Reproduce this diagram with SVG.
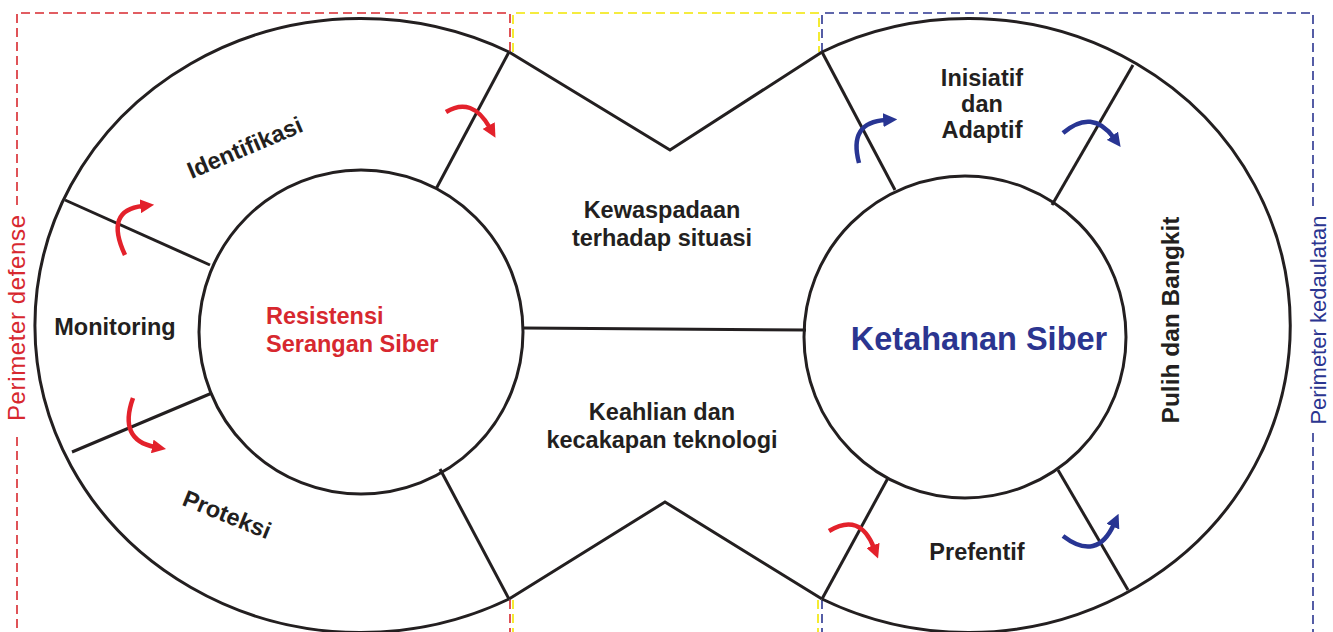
<svg xmlns="http://www.w3.org/2000/svg" width="1333" height="632" viewBox="0 0 1333 632">
<defs>
<style>
.ol{fill:none;stroke:#231f20;stroke-width:3;stroke-linejoin:miter}
.t{font-family:"Liberation Sans",Arial,sans-serif;font-weight:bold;font-size:23.5px;fill:#231f20;text-anchor:middle}
.red{fill:#d7282f}
.blue{fill:#2b3590}
.arr-r{fill:none;stroke:#e3212b;stroke-width:4.5;marker-end:url(#hr)}
.arr-b{fill:none;stroke:#283593;stroke-width:4.5;marker-end:url(#hb)}
.dr{stroke:#d7282f;stroke-width:1.6;stroke-dasharray:9 5;fill:none}
.dy{stroke:#f2e600;stroke-width:1.6;stroke-dasharray:9 5;fill:none}
.db{stroke:#2b3590;stroke-width:1.6;stroke-dasharray:9 5;fill:none}
.per{font-family:"Liberation Sans",Arial,sans-serif;font-size:22px;text-anchor:middle}
</style>
<marker id="hr" viewBox="0 0 10 10" refX="2" refY="5" markerWidth="14" markerHeight="14" markerUnits="userSpaceOnUse" orient="auto"><path d="M0,0 L10,5 L0,10 z" fill="#e3212b"/></marker>
<marker id="hb" viewBox="0 0 10 10" refX="2" refY="5" markerWidth="14" markerHeight="14" markerUnits="userSpaceOnUse" orient="auto"><path d="M0,0 L10,5 L0,10 z" fill="#283593"/></marker>
</defs>
<rect width="1333" height="632" fill="#ffffff"/>
<g id="perimeters">
<path class="dr" d="M17,205 L17,13 L510,13 L510,52"/>
<path class="dr" d="M17,437 L17,632"/>
<path class="dr" d="M510,600 L510,632"/>
<path class="dy" d="M513,52 L513,13 L819,13 L819,52"/>
<path class="dy" d="M513,600 L513,632"/>
<path class="dy" d="M818,600 L818,632"/>
<path class="db" d="M822,52 L822,13 L1313,13 L1313,207"/>
<path class="db" d="M1313,433 L1313,632"/>
<path class="db" d="M822,600 L822,632"/>
<text class="per red" transform="translate(25,318) rotate(-90)" style="font-size:24px" textLength="206" lengthAdjust="spacing">Perimeter defense</text>
<text class="per blue" transform="translate(1326,320) rotate(-90)">Perimeter kedaulatan</text>
</g>
<g id="connectors">
<path class="ol" d="M509,52 A326,307 0 1 0 509,599"/>
<path class="ol" d="M822,52 A322,307 0 1 1 822,599"/>
<path class="ol" d="M509,52 L670,150 L822,52"/>
<path class="ol" d="M509,599 L665,502 L822,599"/>
<path class="ol" d="M523,328 L806,330"/>
<path class="ol" d="M509,52 L436,189"/>
<path class="ol" d="M509,599 L440,469"/>
<path class="ol" d="M65,200 L210,265"/>
<path class="ol" d="M72,452 L212,393"/>
<path class="ol" d="M822,52 L895,190"/>
<path class="ol" d="M1133,65 L1052,205"/>
<path class="ol" d="M822,599 L888,478"/>
<path class="ol" d="M1128,590 L1058,470"/>
</g>
<g id="node-resistensi">
<circle class="ol" cx="361" cy="332" r="162"/>
<text class="t red" style="text-anchor:start" x="266" y="324">Resistensi</text>
<text class="t red" style="text-anchor:start" x="266" y="352">Serangan Siber</text>
</g>
<g id="node-ketahanan">
<circle class="ol" cx="965" cy="337" r="161"/>
<text class="t blue" x="979" y="350" style="font-size:32.5px">Ketahanan Siber</text>
</g>
<g id="node-identifikasi">
<text class="t" transform="translate(248,155) rotate(-23)">Identifikasi</text>
</g>
<g id="node-monitoring">
<text class="t" x="115" y="335">Monitoring</text>
</g>
<g id="node-proteksi">
<text class="t" transform="translate(224,522) rotate(22)">Proteksi</text>
</g>
<g id="node-kewaspadaan">
<text class="t" x="662" y="218">Kewaspadaan</text>
<text class="t" x="662" y="246">terhadap situasi</text>
</g>
<g id="node-keahlian">
<text class="t" x="662" y="420">Keahlian dan</text>
<text class="t" x="662" y="448">kecakapan teknologi</text>
</g>
<g id="node-inisiatif">
<text class="t" x="982" y="86">Inisiatif</text>
<text class="t" x="982" y="112">dan</text>
<text class="t" x="982" y="138">Adaptif</text>
</g>
<g id="node-pulih">
<text class="t" transform="translate(1179,320) rotate(-90)" style="font-size:24.5px">Pulih dan Bangkit</text>
</g>
<g id="node-prefentif">
<text class="t" x="977" y="560">Prefentif</text>
</g>
<g id="arrows">
<path class="arr-r" d="M446,112 Q472,96 490,128"/>
<path class="arr-r" d="M125,255 Q104,210 143,206"/>
<path class="arr-r" d="M133,398 Q118,440 155,447"/>
<path class="arr-b" d="M859,163 Q848,122 886,120"/>
<path class="arr-b" d="M1063,133 Q1092,108 1114,138"/>
<path class="arr-r" d="M829,531 Q860,512 874,548"/>
<path class="arr-b" d="M1063,536 Q1097,562 1114,524"/>
</g>
</svg>
